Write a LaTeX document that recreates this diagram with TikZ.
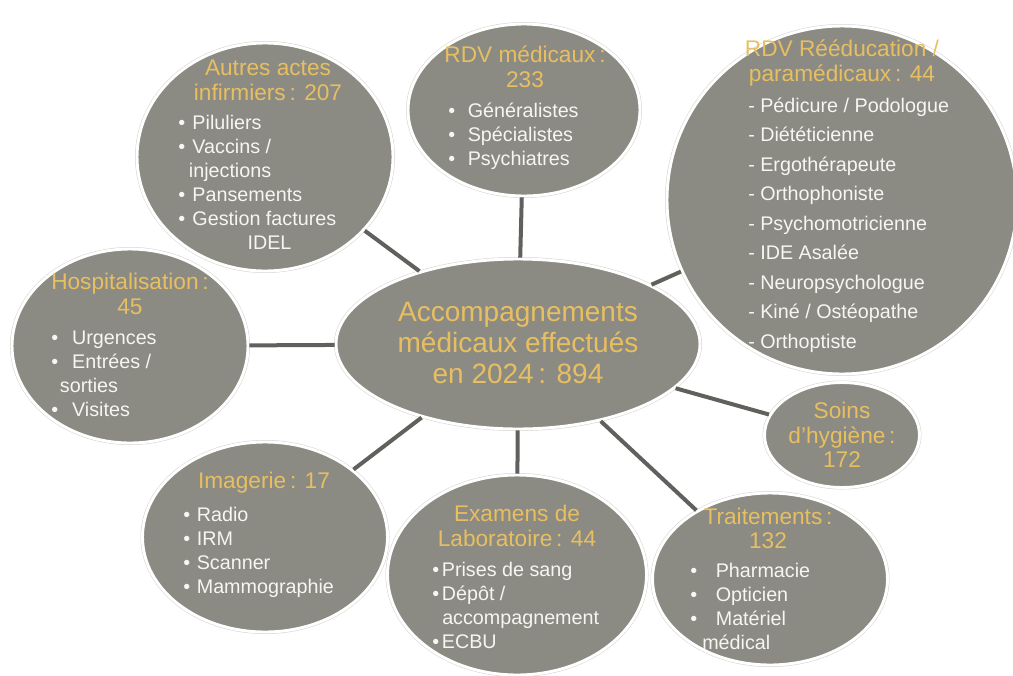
\documentclass[tikz,border=0pt]{standalone}
\usepackage{fontspec}
\setmainfont{Liberation Sans}
\usetikzlibrary{shapes.geometric}

\definecolor{bubblefill}{RGB}{139,139,132}
\definecolor{bubblerim}{RGB}{212,212,208}
\definecolor{headgold}{RGB}{232,191,96}
\definecolor{itemwhite}{RGB}{246,246,242}
\definecolor{linkgray}{RGB}{96,96,92}

\begin{document}
\begin{tikzpicture}[
  x=0.75pt,
  y=-0.75pt,
  bubble/.style 2 args={
    ellipse,
    fill=bubblefill,
    draw=white,
    line width=2.2pt,
    preaction={draw=bubblerim, line width=3pt},
    inner sep=0pt,
    minimum width=#1*0.75pt,
    minimum height=#2*0.75pt
  },
  headtext/.style={
    text=headgold,
    align=center,
    inner sep=0pt,
    font=\fontsize{17}{18.5}\selectfont
  },
  listtext/.style={
    text=itemwhite,
    align=left,
    inner sep=0pt,
    anchor=west,
    font=\fontsize{14.8}{18}\selectfont
  },
  link/.style={
    draw=linkgray,
    line width=3pt
  },
]
\useasboundingbox (0,0) rectangle (1013,675);

% bubbles
\node[bubble={364}{170}] (total) at (518,344) {};
\node[bubble={256}{228}] (infirm) at (265,157) {};
\node[bubble={232}{172}] (medic) at (524,110) {};
\node[bubble={350}{348}] (reeduc) at (842,200) {};
\node[bubble={236}{194}] (hospit) at (130,346) {};
\node[bubble={155}{105}] (hygiene) at (842,435) {};
\node[bubble={245}{190}] (imagerie) at (265,537) {};
\node[bubble={259}{200}] (labo) at (517,575) {};
\node[bubble={235}{172}] (traitmt) at (770,579) {};

% connectors
\foreach \sat in {infirm,medic,reeduc,hospit,hygiene,imagerie,labo,traitmt}
  \draw[link] (total) -- (\sat);

% centre
\node[headtext, font=\fontsize{21}{23.6}\selectfont] (total-t) at (518,343)
  {Accompagnements\\médicaux effectués\\en 2024\,: 894};

% autres actes infirmiers
\node[headtext] (infirm-t) at (268,80) {Autres actes\\infirmiers\,: 207};
\node[listtext] (infirm-l) at (178,182.5) {%
  \textbullet\hspace{5.5pt}Piluliers\\
  \textbullet\hspace{5.5pt}Vaccins /\\
  \hspace*{8pt}injections\\
  \textbullet\hspace{5.5pt}Pansements\\
  \textbullet\hspace{5.5pt}Gestion factures\\
  \hspace*{52pt}IDEL};

% rdv medicaux
\node[headtext] (medic-t) at (525,67) {RDV médicaux\,:\\233};
\node[listtext] (medic-l) at (448,136) {%
  \textbullet\hspace{9.5pt}Généralistes\\
  \textbullet\hspace{9.5pt}Spécialistes\\
  \textbullet\hspace{9.5pt}Psychiatres};

% reeducation
\node[headtext] (reeduc-t) at (842,63) {RDV Rééducation /\\paramédicaux\,: 44};
\node[listtext, font=\fontsize{14.8}{22.1}\selectfont] (reeduc-l) at (748,225) {%
  - Pédicure / Podologue\\
  - Diététicienne\\
  - Ergothérapeute\\
  - Orthophoniste\\
  - Psychomotricienne\\
  - IDE Asalée\\
  - Neuropsychologue\\
  - Kiné / Ostéopathe\\
  - Orthoptiste};

% hospitalisation
\node[headtext] (hospit-t) at (130,294) {Hospitalisation\,:\\45};
\node[listtext] (hospit-l) at (51,374) {%
  \textbullet\hspace{10.5pt}Urgences\\
  \textbullet\hspace{10.5pt}Entrées /\\
  \hspace*{6.5pt}sorties\\
  \textbullet\hspace{10.5pt}Visites};

% soins d'hygiene
\node[headtext] (hygiene-t) at (842,435) {Soins\\d’hygiène\,:\\172};

% imagerie
\node[headtext] (imagerie-t) at (264,483) {Imagerie\,: 17};
\node[listtext] (imagerie-l) at (183,552.5) {%
  \textbullet\hspace{5pt}Radio\\
  \textbullet\hspace{5pt}IRM\\
  \textbullet\hspace{5pt}Scanner\\
  \textbullet\hspace{5pt}Mammographie};

% examens de laboratoire
\node[headtext] (labo-t) at (517,526) {Examens de\\Laboratoire\,: 44};
\node[listtext] (labo-l) at (432,605.5) {%
  \textbullet\hspace{2pt}Prises de sang\\
  \textbullet\hspace{2pt}Dépôt /\\
  \hspace*{7.5pt}accompagnement\\
  \textbullet\hspace{2pt}ECBU};

% traitements
\node[headtext] (traitmt-t) at (768,528.5) {Traitements\,:\\132};
\node[listtext] (traitmt-l) at (690,606.5) {%
  \textbullet\hspace{14pt}Pharmacie\\
  \textbullet\hspace{14pt}Opticien\\
  \textbullet\hspace{14pt}Matériel\\
  \hspace*{9pt}médical};
\end{tikzpicture}
\end{document}
